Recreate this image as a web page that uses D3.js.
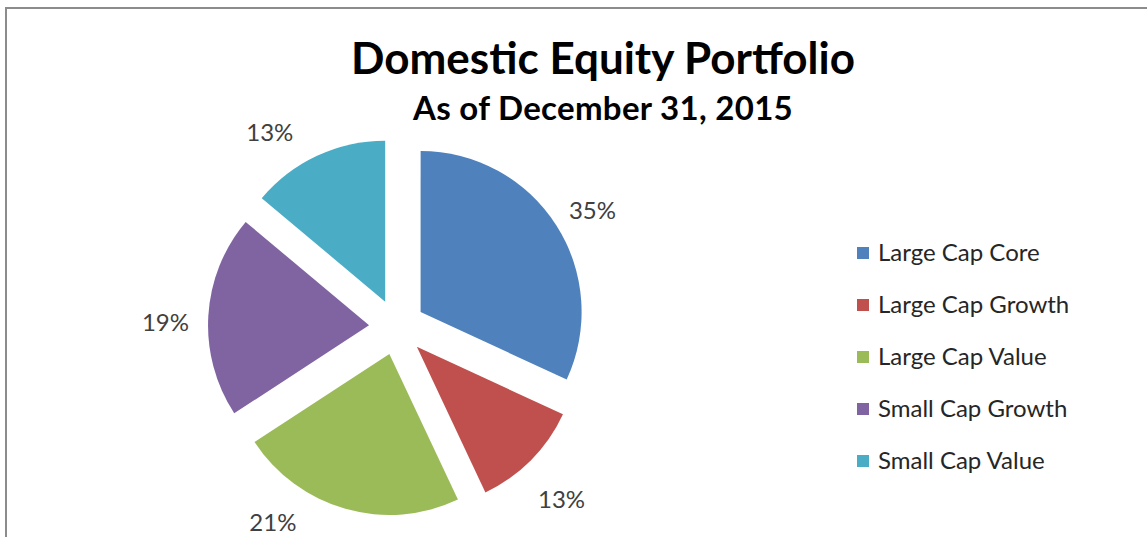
<!doctype html>
<html lang="en">
<head>
  <meta charset="UTF-8">
  <title>Domestic Equity Portfolio</title>
  <script src="https://cdn.jsdelivr.net/npm/d3@7"></script>
  <style>
    body { margin: 0; background: #fff; }
    text { font-family: Lato, "Open Sans", sans-serif; }
  </style>
</head>
<body>
<div id="container"></div>
<script type="text/javascript">
// slice sizes as drawn (share of the circle), and the labels printed on the chart
var categories = ['Large Cap Core', 'Large Cap Growth', 'Large Cap Value', 'Small Cap Growth', 'Small Cap Value'];
var shares = [31.9, 11.1, 22.8, 20.3, 13.9];
var labels = ['35%', '13%', '21%', '19%', '13%'];
var colors = ['#4F81BD', '#C0504D', '#9BBB59', '#8064A2', '#4BACC6'];

var width = 1147, height = 537;
var cx = 397, cy = 327, radius = 161, explode = 28;
var labelDist = 232, labelShift = 9, labelTop = 133, labelBottom = 523;

var svg = d3.select('#container').append('svg')
  .attr('width', width)
  .attr('height', height);

// frame (only top and left edges show in the picture)
svg.append('rect')
  .attr('x', 6).attr('y', 8)
  .attr('width', width).attr('height', height)
  .attr('fill', 'none')
  .attr('stroke', '#8c8c8c')
  .attr('stroke-width', 2);

svg.append('text')
  .attr('x', 603).attr('y', 74)
  .attr('text-anchor', 'middle')
  .attr('font-weight', 'bold')
  .attr('font-size', 44)
  .attr('fill', '#000')
  .text('Domestic Equity Portfolio');

svg.append('text')
  .attr('x', 603).attr('y', 120)
  .attr('text-anchor', 'middle')
  .attr('font-weight', 'bold')
  .attr('font-size', 33)
  .attr('letter-spacing', 0.3)
  .attr('fill', '#000')
  .text('As of December 31, 2015');

var pie = d3.pie().sort(null).value(function(d) { return d; });
var arcs = pie(shares);
var arc = d3.arc().innerRadius(0).outerRadius(radius);

function mid(a) { return (a.startAngle + a.endAngle) / 2; }

var g = svg.append('g').attr('transform', 'translate(' + cx + ',' + cy + ')');

g.selectAll('path.slice')
  .data(arcs)
  .enter()
  .append('path')
  .attr('class', 'slice')
  .attr('d', arc)
  .attr('fill', function(d, i) { return colors[i]; })
  .attr('transform', function(d) {
    var m = mid(d);
    return 'translate(' + (Math.sin(m) * explode) + ',' + (-Math.cos(m) * explode) + ')';
  });

// data labels on a ring round the pie, slid along it to stay inside the plot area
function labelPos(d) {
  var m = mid(d);
  var y = -Math.cos(m) * labelDist + labelShift;
  var side = Math.sin(m) >= 0 ? 1 : -1;
  var maxY = labelBottom - cy, minY = labelTop - cy;
  if (y > maxY || y < minY) {
    y = Math.max(minY, Math.min(maxY, y));
    var x = side * Math.sqrt(labelDist * labelDist - y * y);
    return [x, y];
  }
  return [Math.sin(m) * labelDist, y];
}

g.selectAll('text.label')
  .data(arcs)
  .enter()
  .append('text')
  .attr('class', 'label')
  .attr('x', function(d) { return labelPos(d)[0]; })
  .attr('y', function(d) { return labelPos(d)[1]; })
  .attr('dy', '0.35em')
  .attr('text-anchor', 'middle')
  .attr('font-size', 24)
  .attr('fill', '#404040')
  .text(function(d, i) { return labels[i]; });

// legend
var legend = svg.append('g').attr('transform', 'translate(857,253)');
var item = legend.selectAll('g.item')
  .data(categories)
  .enter()
  .append('g')
  .attr('class', 'item')
  .attr('transform', function(d, i) { return 'translate(0,' + (i * 52) + ')'; });

item.append('rect')
  .attr('x', 0).attr('y', -6)
  .attr('width', 12).attr('height', 12)
  .attr('fill', function(d, i) { return colors[i]; });

item.append('text')
  .attr('x', 21)
  .attr('dy', '0.35em')
  .attr('font-size', 24)
  .attr('fill', '#262626')
  .text(function(d) { return d; });
</script>
</body>
</html>
